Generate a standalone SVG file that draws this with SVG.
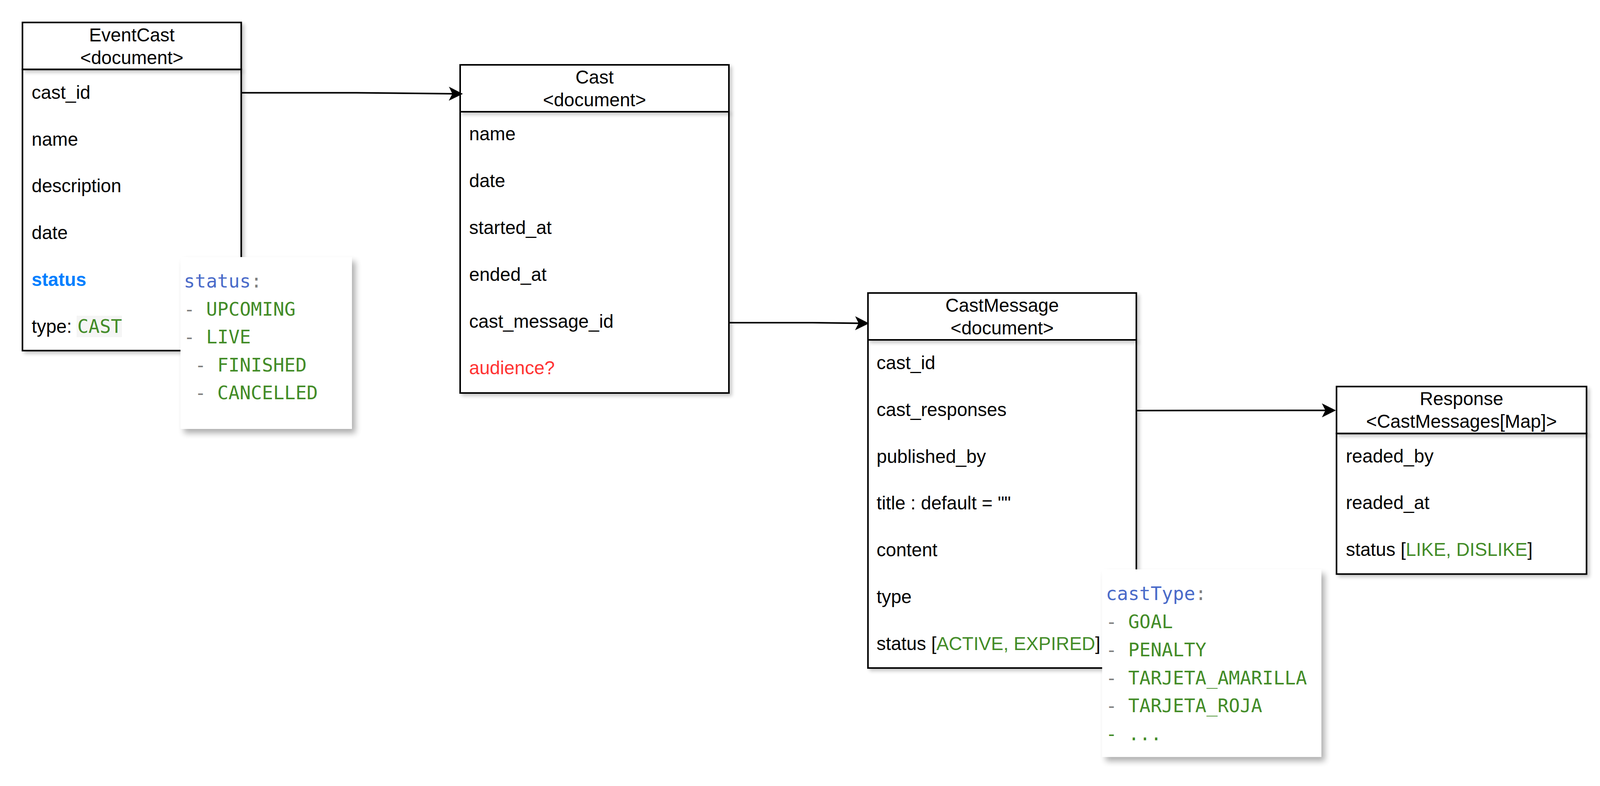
<svg xmlns="http://www.w3.org/2000/svg" width="4104" height="2012" viewBox="0 0 4104 2012">
<style>
.box{fill:#ffffff;stroke:#000000;stroke-width:4}
.t{font-family:"Liberation Sans",Arial,Helvetica,sans-serif;font-size:47.5px;fill:#000000}
.c{text-anchor:middle}
.m{font-family:"DejaVu Sans Mono",Menlo,"Liberation Mono",monospace;font-size:47.5px}
.key{fill:#4A6BC9}
.gr{fill:#7F7F7F}
.val{fill:#438C28}
.note{fill:#ffffff}
.edge{fill:none;stroke:#000000;stroke-width:4}
</style>
<defs>
<filter id="sh" x="-10%" y="-10%" width="130%" height="130%">
<feGaussianBlur in="SourceAlpha" stdDeviation="5"/>
<feOffset dx="6" dy="6" result="o"/>
<feComponentTransfer><feFuncA type="linear" slope="0.22"/></feComponentTransfer>
<feMerge><feMergeNode/><feMergeNode in="SourceGraphic"/></feMerge>
</filter>
<filter id="nsh" x="-10%" y="-10%" width="130%" height="130%">
<feGaussianBlur in="SourceAlpha" stdDeviation="8"/>
<feOffset dx="9" dy="11" result="o"/>
<feComponentTransfer><feFuncA type="linear" slope="0.32"/></feComponentTransfer>
<feMerge><feMergeNode/><feMergeNode in="SourceGraphic"/></feMerge>
</filter>
<marker id="arr" viewBox="0 0 36 36" refX="9" refY="18" markerWidth="36" markerHeight="36" markerUnits="userSpaceOnUse" orient="auto">
<path d="M0,0 L36,18 L0,36 L9,18 Z" fill="#000000"/>
</marker>
</defs>
<rect width="4104" height="2012" fill="#ffffff"/>

<g id="EventCast">
<rect class="box" x="57.5" y="177.5" width="560" height="720" filter="url(#sh)"/>
<rect class="box" x="57.5" y="57.5" width="560" height="120" filter="url(#sh)"/>
<text class="t c" x="337.5" y="105.5">EventCast</text>
<text class="t c" x="337.5" y="163.5">&lt;document&gt;</text>
<text class="t" x="81" y="252.5">cast_id</text>
<text class="t" x="81" y="372.5">name</text>
<text class="t" x="81" y="492">description</text>
<text class="t" x="81" y="612">date</text>
<text class="t" x="81" y="732" style="fill:#007FFF;font-weight:bold">status</text>
<text class="t" x="81" y="851.5">type:</text>
<rect x="196" y="808" width="116" height="55" fill="#F5F5F5"/>
<text class="m val" x="198" y="851.5">CAST</text>
</g>

<g id="Cast">
<rect class="box" x="1178" y="286" width="688" height="720" filter="url(#sh)"/>
<rect class="box" x="1178" y="166" width="688" height="120" filter="url(#sh)"/>
<text class="t c" x="1522" y="214">Cast</text>
<text class="t c" x="1522" y="272">&lt;document&gt;</text>
<text class="t" x="1201" y="359">name</text>
<text class="t" x="1201" y="479">date</text>
<text class="t" x="1201" y="599">started_at</text>
<text class="t" x="1201" y="719">ended_at</text>
<text class="t" x="1201" y="839">cast_message_id</text>
<text class="t" x="1201" y="958" style="fill:#FF3333">audience?</text>
</g>

<g id="CastMessage">
<rect class="box" x="2222" y="870" width="687" height="840" filter="url(#sh)"/>
<rect class="box" x="2222" y="750" width="687" height="120" filter="url(#sh)"/>
<text class="t c" x="2565.5" y="798">CastMessage</text>
<text class="t c" x="2565.5" y="856">&lt;document&gt;</text>
<text class="t" x="2244" y="944.5">cast_id</text>
<text class="t" x="2244" y="1064.5">cast_responses</text>
<text class="t" x="2244" y="1184.5">published_by</text>
<text class="t" x="2244" y="1304">title : default = &quot;&quot;</text>
<text class="t" x="2244" y="1424">content</text>
<text class="t" x="2244" y="1544">type</text>
<text class="t" x="2244" y="1664">status [<tspan class="val">ACTIVE, EXPIRED</tspan>]</text>
</g>

<g id="Response">
<rect class="box" x="3421.5" y="1109.5" width="640" height="360" filter="url(#sh)"/>
<rect class="box" x="3421.5" y="989.5" width="640" height="120" filter="url(#sh)"/>
<text class="t c" x="3741.5" y="1037">Response</text>
<text class="t c" x="3741.5" y="1095">&lt;CastMessages[Map]&gt;</text>
<text class="t" x="3445.5" y="1183.5">readed_by</text>
<text class="t" x="3445.5" y="1303">readed_at</text>
<text class="t" x="3445.5" y="1422.5">status [<tspan class="val">LIKE, DISLIKE</tspan>]</text>
</g>

<g id="connectors">
<path class="edge" d="M617.5,237.5 L912,237.5 L1158,240" marker-end="url(#arr)"/>
<path class="edge" d="M1866,826 L2080,826 L2198,827.5" marker-end="url(#arr)"/>
<path class="edge" d="M2909,1051 L3393,1050.5" marker-end="url(#arr)"/>
</g>

<g id="status-note">
<rect class="note" x="462" y="658" width="439" height="440" filter="url(#nsh)"/>
<text class="m" x="470.5" y="736"><tspan class="key">status</tspan><tspan class="gr">:</tspan></text>
<text class="m" x="470.5" y="807.5"><tspan class="gr">- </tspan><tspan class="val">UPCOMING</tspan></text>
<text class="m" x="470.5" y="879"><tspan class="gr">- </tspan><tspan class="val">LIVE</tspan></text>
<text class="m" x="499" y="950.5"><tspan class="gr">- </tspan><tspan class="val">FINISHED</tspan></text>
<text class="m" x="499" y="1022"><tspan class="gr">- </tspan><tspan class="val">CANCELLED</tspan></text>
</g>

<g id="castType-note">
<rect class="note" x="2821.5" y="1457.5" width="561" height="480" filter="url(#nsh)"/>
<text class="m" x="2831" y="1536"><tspan class="key">castType</tspan><tspan class="gr">:</tspan></text>
<text class="m" x="2831" y="1608"><tspan class="gr">- </tspan><tspan class="val">GOAL</tspan></text>
<text class="m" x="2831" y="1680"><tspan class="gr">- </tspan><tspan class="val">PENALTY</tspan></text>
<text class="m" x="2831" y="1751.5"><tspan class="gr">- </tspan><tspan class="val">TARJETA_AMARILLA</tspan></text>
<text class="m" x="2831" y="1823"><tspan class="gr">- </tspan><tspan class="val">TARJETA_ROJA</tspan></text>
<text class="m val" x="2831" y="1895">- ...</text>
</g>
</svg>
